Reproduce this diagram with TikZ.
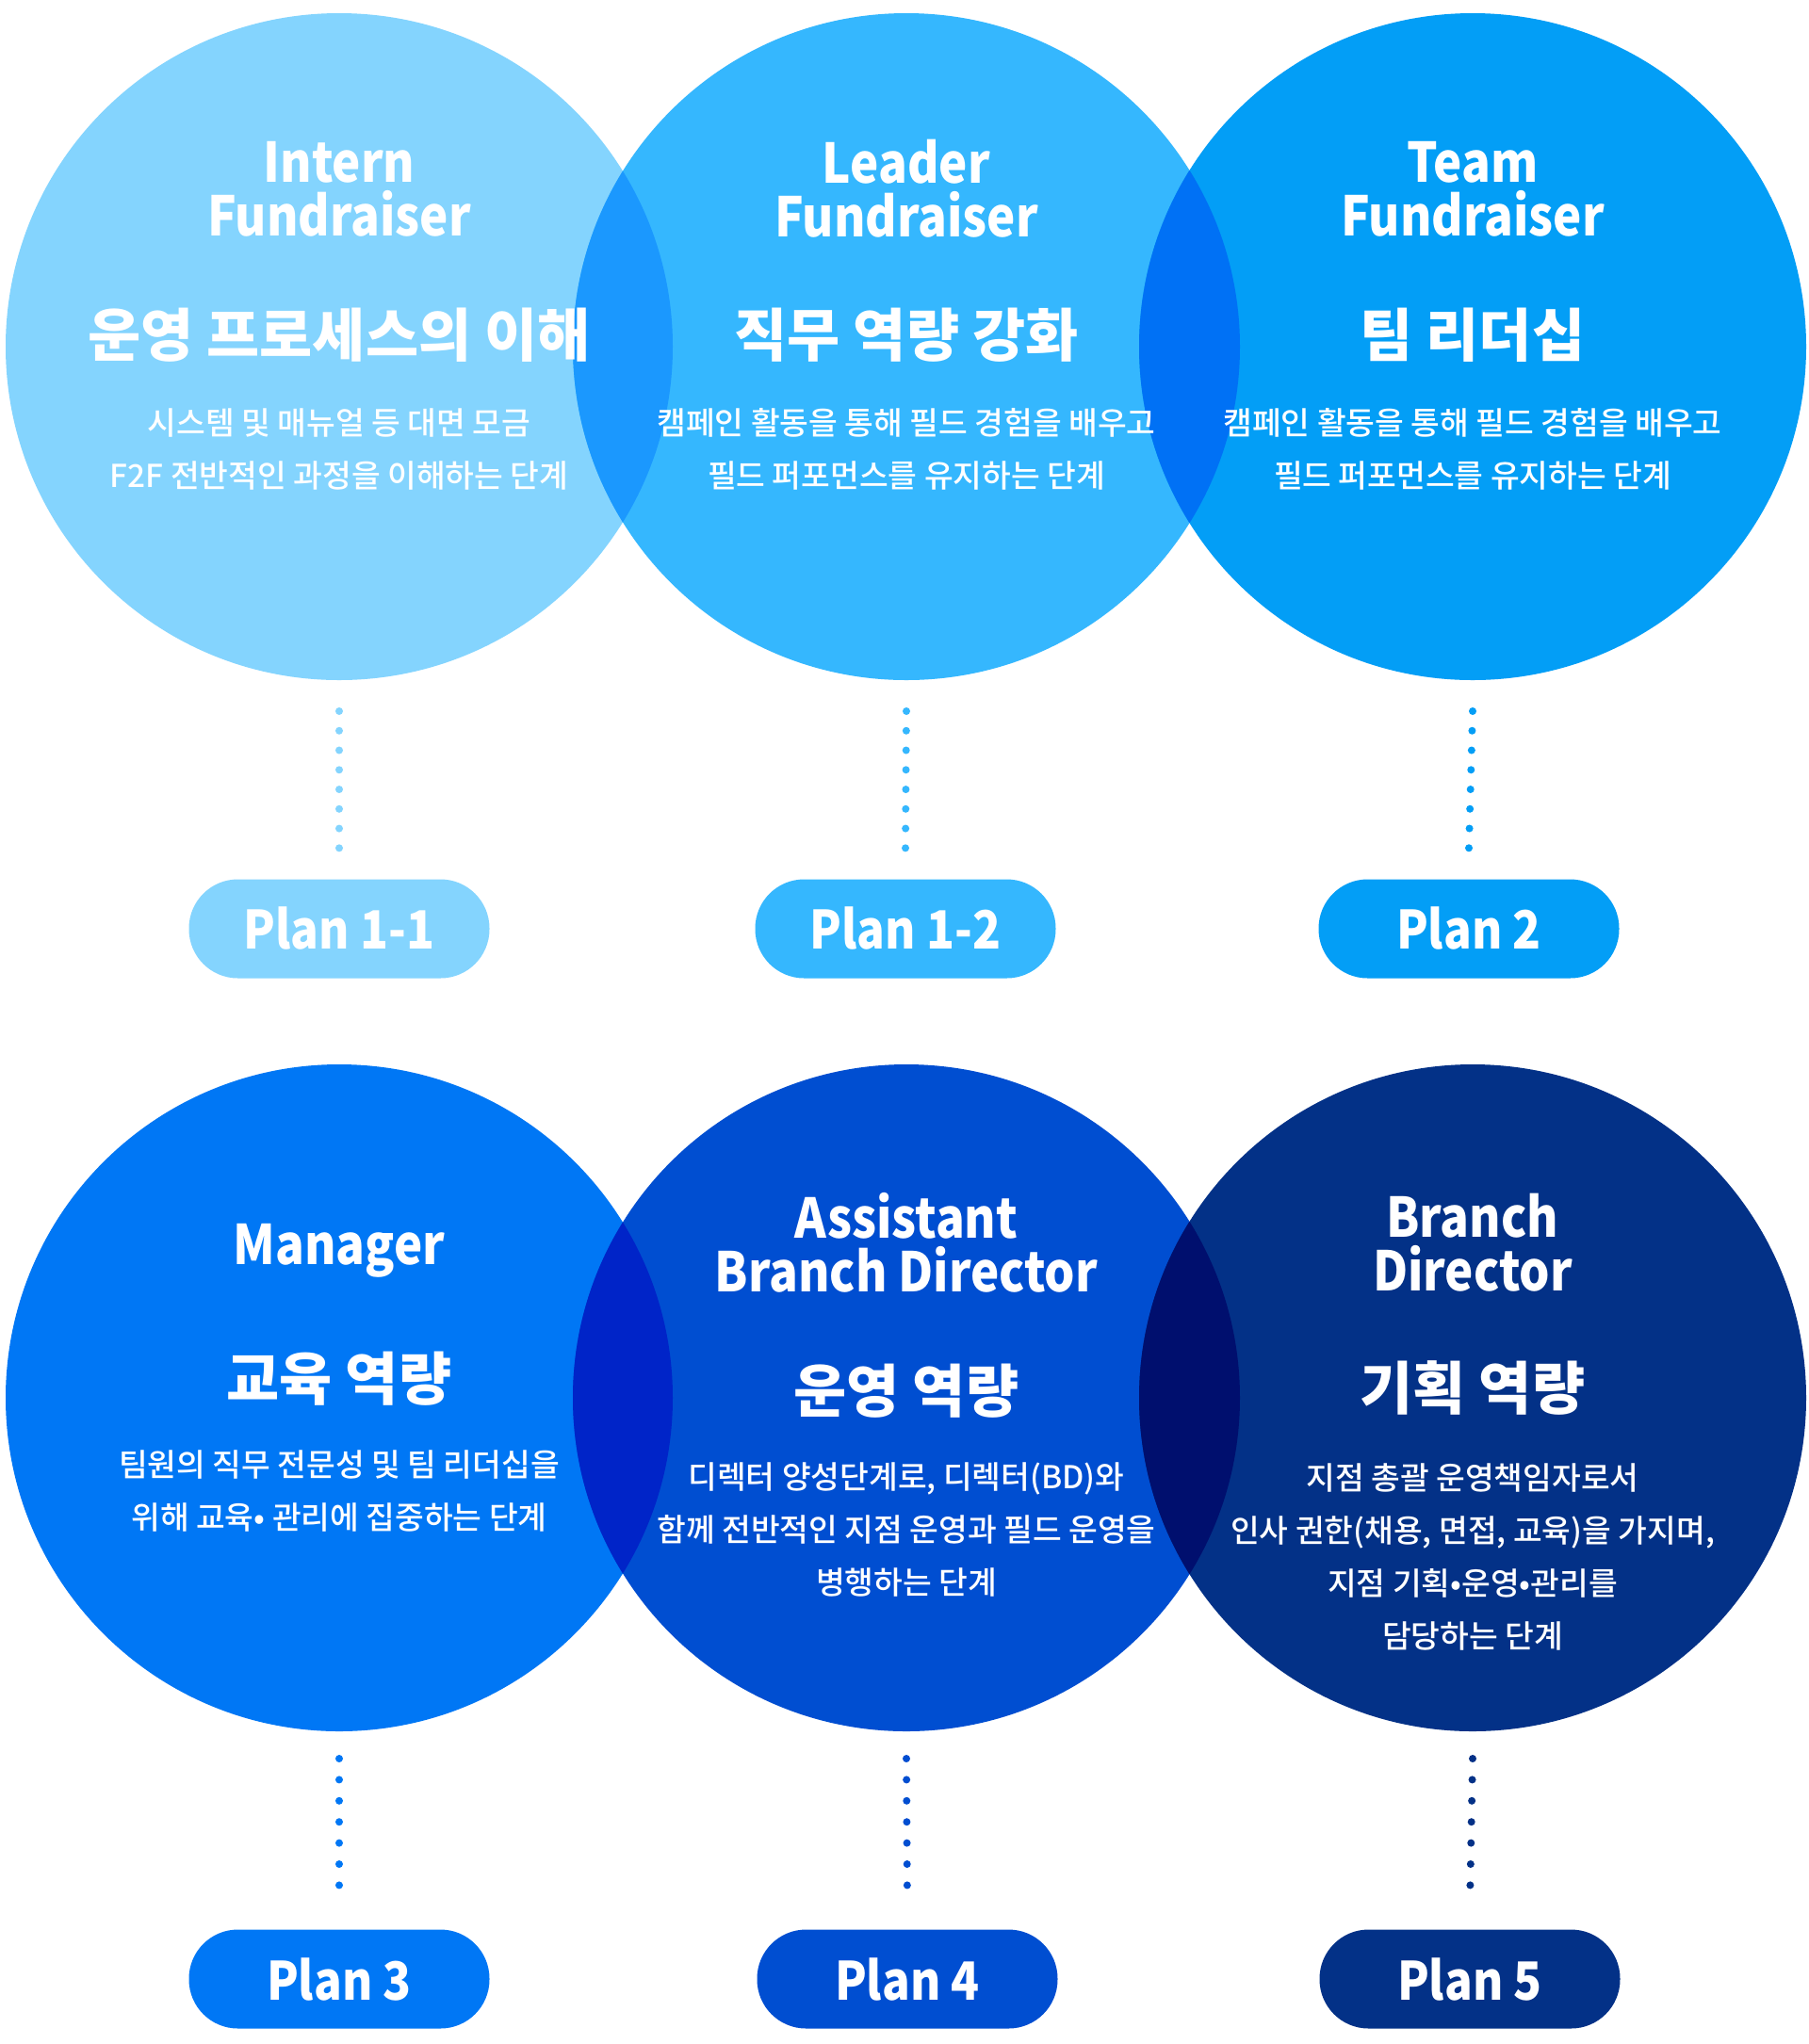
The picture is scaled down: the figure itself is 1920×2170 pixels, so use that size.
\documentclass[tikz,border=0pt]{standalone}
\usepackage{fontspec}
\setmainfont{Noto Sans CJK KR}
\newfontfamily\narrowfont{Noto Sans CJK KR}[FakeStretch=0.88]
\newfontfamily\medfont{Noto Sans CJK KR Medium}
\usepackage{xcolor}
\usepackage{tikz}
\usetikzlibrary{positioning,calc}

\definecolor{internblue}{HTML}{84D4FE}
\definecolor{leaderblue}{HTML}{35B7FE}
\definecolor{teamblue}{HTML}{039EF6}
\definecolor{managerblue}{HTML}{0077F5}
\definecolor{abdblue}{HTML}{004ED1}
\definecolor{bdblue}{HTML}{033187}
\definecolor{lensA}{HTML}{1B98FE}
\definecolor{lensB}{HTML}{0071F5}
\definecolor{lensC}{HTML}{0024C8}
\definecolor{lensD}{HTML}{000F6E}

\begin{document}
\begin{tikzpicture}[x=0.5pt, y=-0.5pt,
    stage/.style={circle, minimum size=354pt, inner sep=0pt, outer sep=0pt},
    title/.style={text=white, font=\narrowfont\bfseries\fontsize{29}{28.5}\selectfont, align=center, inner sep=0pt},
    head/.style={text=white, font=\bfseries\fontsize{30.5}{32}\selectfont, inner sep=0pt},
    body/.style={text=white, font=\medfont\fontsize{16.7}{28}\selectfont, align=center, inner sep=0pt},
    plan/.style={rounded corners=26pt, minimum width=159.5pt, minimum height=52.5pt, inner sep=0pt, outer sep=0pt, text=white, font=\narrowfont\bfseries\fontsize{28}{30}\selectfont},
    dotline/.style={line width=4pt, line cap=round, dash pattern=on 0pt off #1}]
    \useasboundingbox (0,0) rectangle (1920,2170);
    \fill[white] (0,0) rectangle (1920,2170);

    % circles
    \node[stage, fill=internblue] (intern) at (360,368) {};
    \node[stage, fill=leaderblue] (leader) at (962,368) {};
    \node[stage, fill=teamblue] (team) at (1563,368) {};
    \node[stage, fill=managerblue] (manager) at (360,1484) {};
    \node[stage, fill=abdblue] (abd) at (962,1484) {};
    \node[stage, fill=bdblue] (bd) at (1563,1484) {};

    % overlaps
    \begin{scope}
        \clip (intern.center) circle[radius=177pt];
        \fill[lensA] (leader.center) circle[radius=177pt];
    \end{scope}
    \begin{scope}
        \clip (leader.center) circle[radius=177pt];
        \fill[lensB] (team.center) circle[radius=177pt];
    \end{scope}
    \begin{scope}
        \clip (manager.center) circle[radius=177pt];
        \fill[lensC] (abd.center) circle[radius=177pt];
    \end{scope}
    \begin{scope}
        \clip (abd.center) circle[radius=177pt];
        \fill[lensD] (bd.center) circle[radius=177pt];
    \end{scope}

    % texts
    \node[title] (internT) at (360,200.5) {Intern\\Fundraiser};
    \node[head] (internH) at (360,356) {운영 프로세스의 이해};
    \node[body] (internB) at (360,476.5) {시스템 및 매뉴얼 등 대면 모금\\F2F 전반적인 과정을 이해하는 단계};

    \node[title] (leaderT) at (962,200.5) {Leader\\Fundraiser};
    \node[head] (leaderH) at (962,356) {직무 역량 강화};
    \node[body] (leaderB) at (962,476.5) {캠페인 활동을 통해 필드 경험을 배우고\\필드 퍼포먼스를 유지하는 단계};

    \node[title] (teamT) at (1563,200.5) {Team\\Fundraiser};
    \node[head] (teamH) at (1563,356) {팀 리더십};
    \node[body] (teamB) at (1563,476.5) {캠페인 활동을 통해 필드 경험을 배우고\\필드 퍼포먼스를 유지하는 단계};

    \node[title] (managerT) at (360,1328) {Manager};
    \node[head] (managerH) at (360,1463.5) {교육 역량};
    \node[body] (managerB) at (360,1583) {팀원의 직무 전문성 및 팀 리더십을\\위해 교육• 관리에 집중하는 단계};

    \node[title] (abdT) at (962,1319.5) {Assistant\\Branch Director};
    \node[head] (abdH) at (962,1476.5) {운영 역량};
    \node[body] (abdB) at (962,1624) {디렉터 양성단계로, 디렉터(BD)와\\함께 전반적인 지점 운영과 필드 운영을\\병행하는 단계};

    \node[title] (bdT) at (1563,1319.5) {Branch\\Director};
    \node[head] (bdH) at (1563,1473) {기획 역량};
    \node[body] (bdB) at (1563,1652.5) {지점 총괄 운영책임자로서\\인사 권한(채용, 면접, 교육)을 가지며,\\지점 기획•운영•관리를\\담당하는 단계};

    % plans
    \node[plan, fill=internblue] (plan11) at (360,986) {Plan 1-1};
    \node[plan, fill=leaderblue] (plan12) at (961,986) {Plan 1-2};
    \node[plan, fill=teamblue] (plan2) at (1559,986) {Plan 2};
    \node[plan, fill=managerblue] (plan3) at (360,2101) {Plan 3};
    \node[plan, fill=abdblue] (plan4) at (963,2101) {Plan 4};
    \node[plan, fill=bdblue] (plan5) at (1560,2101) {Plan 5};

    % dotted links
    \draw[dotline=10.38pt, internblue] ([yshift=-16.5pt]intern.south) -- ([yshift=16.5pt]plan11.north);
    \draw[dotline=10.38pt, leaderblue] ([yshift=-16.5pt]leader.south) -- ([yshift=16.5pt]plan12.north);
    \draw[dotline=10.38pt, teamblue] ([yshift=-16.5pt]team.south) -- ([yshift=16.5pt]plan2.north);
    \draw[dotline=11.2pt, managerblue] ([yshift=-14.5pt]manager.south) -- ([yshift=13pt]plan3.north);
    \draw[dotline=11.2pt, abdblue] ([yshift=-14.5pt]abd.south) -- ([yshift=13pt]plan4.north);
    \draw[dotline=11.2pt, bdblue] ([yshift=-14.5pt]bd.south) -- ([yshift=13pt]plan5.north);
\end{tikzpicture}
\end{document}
